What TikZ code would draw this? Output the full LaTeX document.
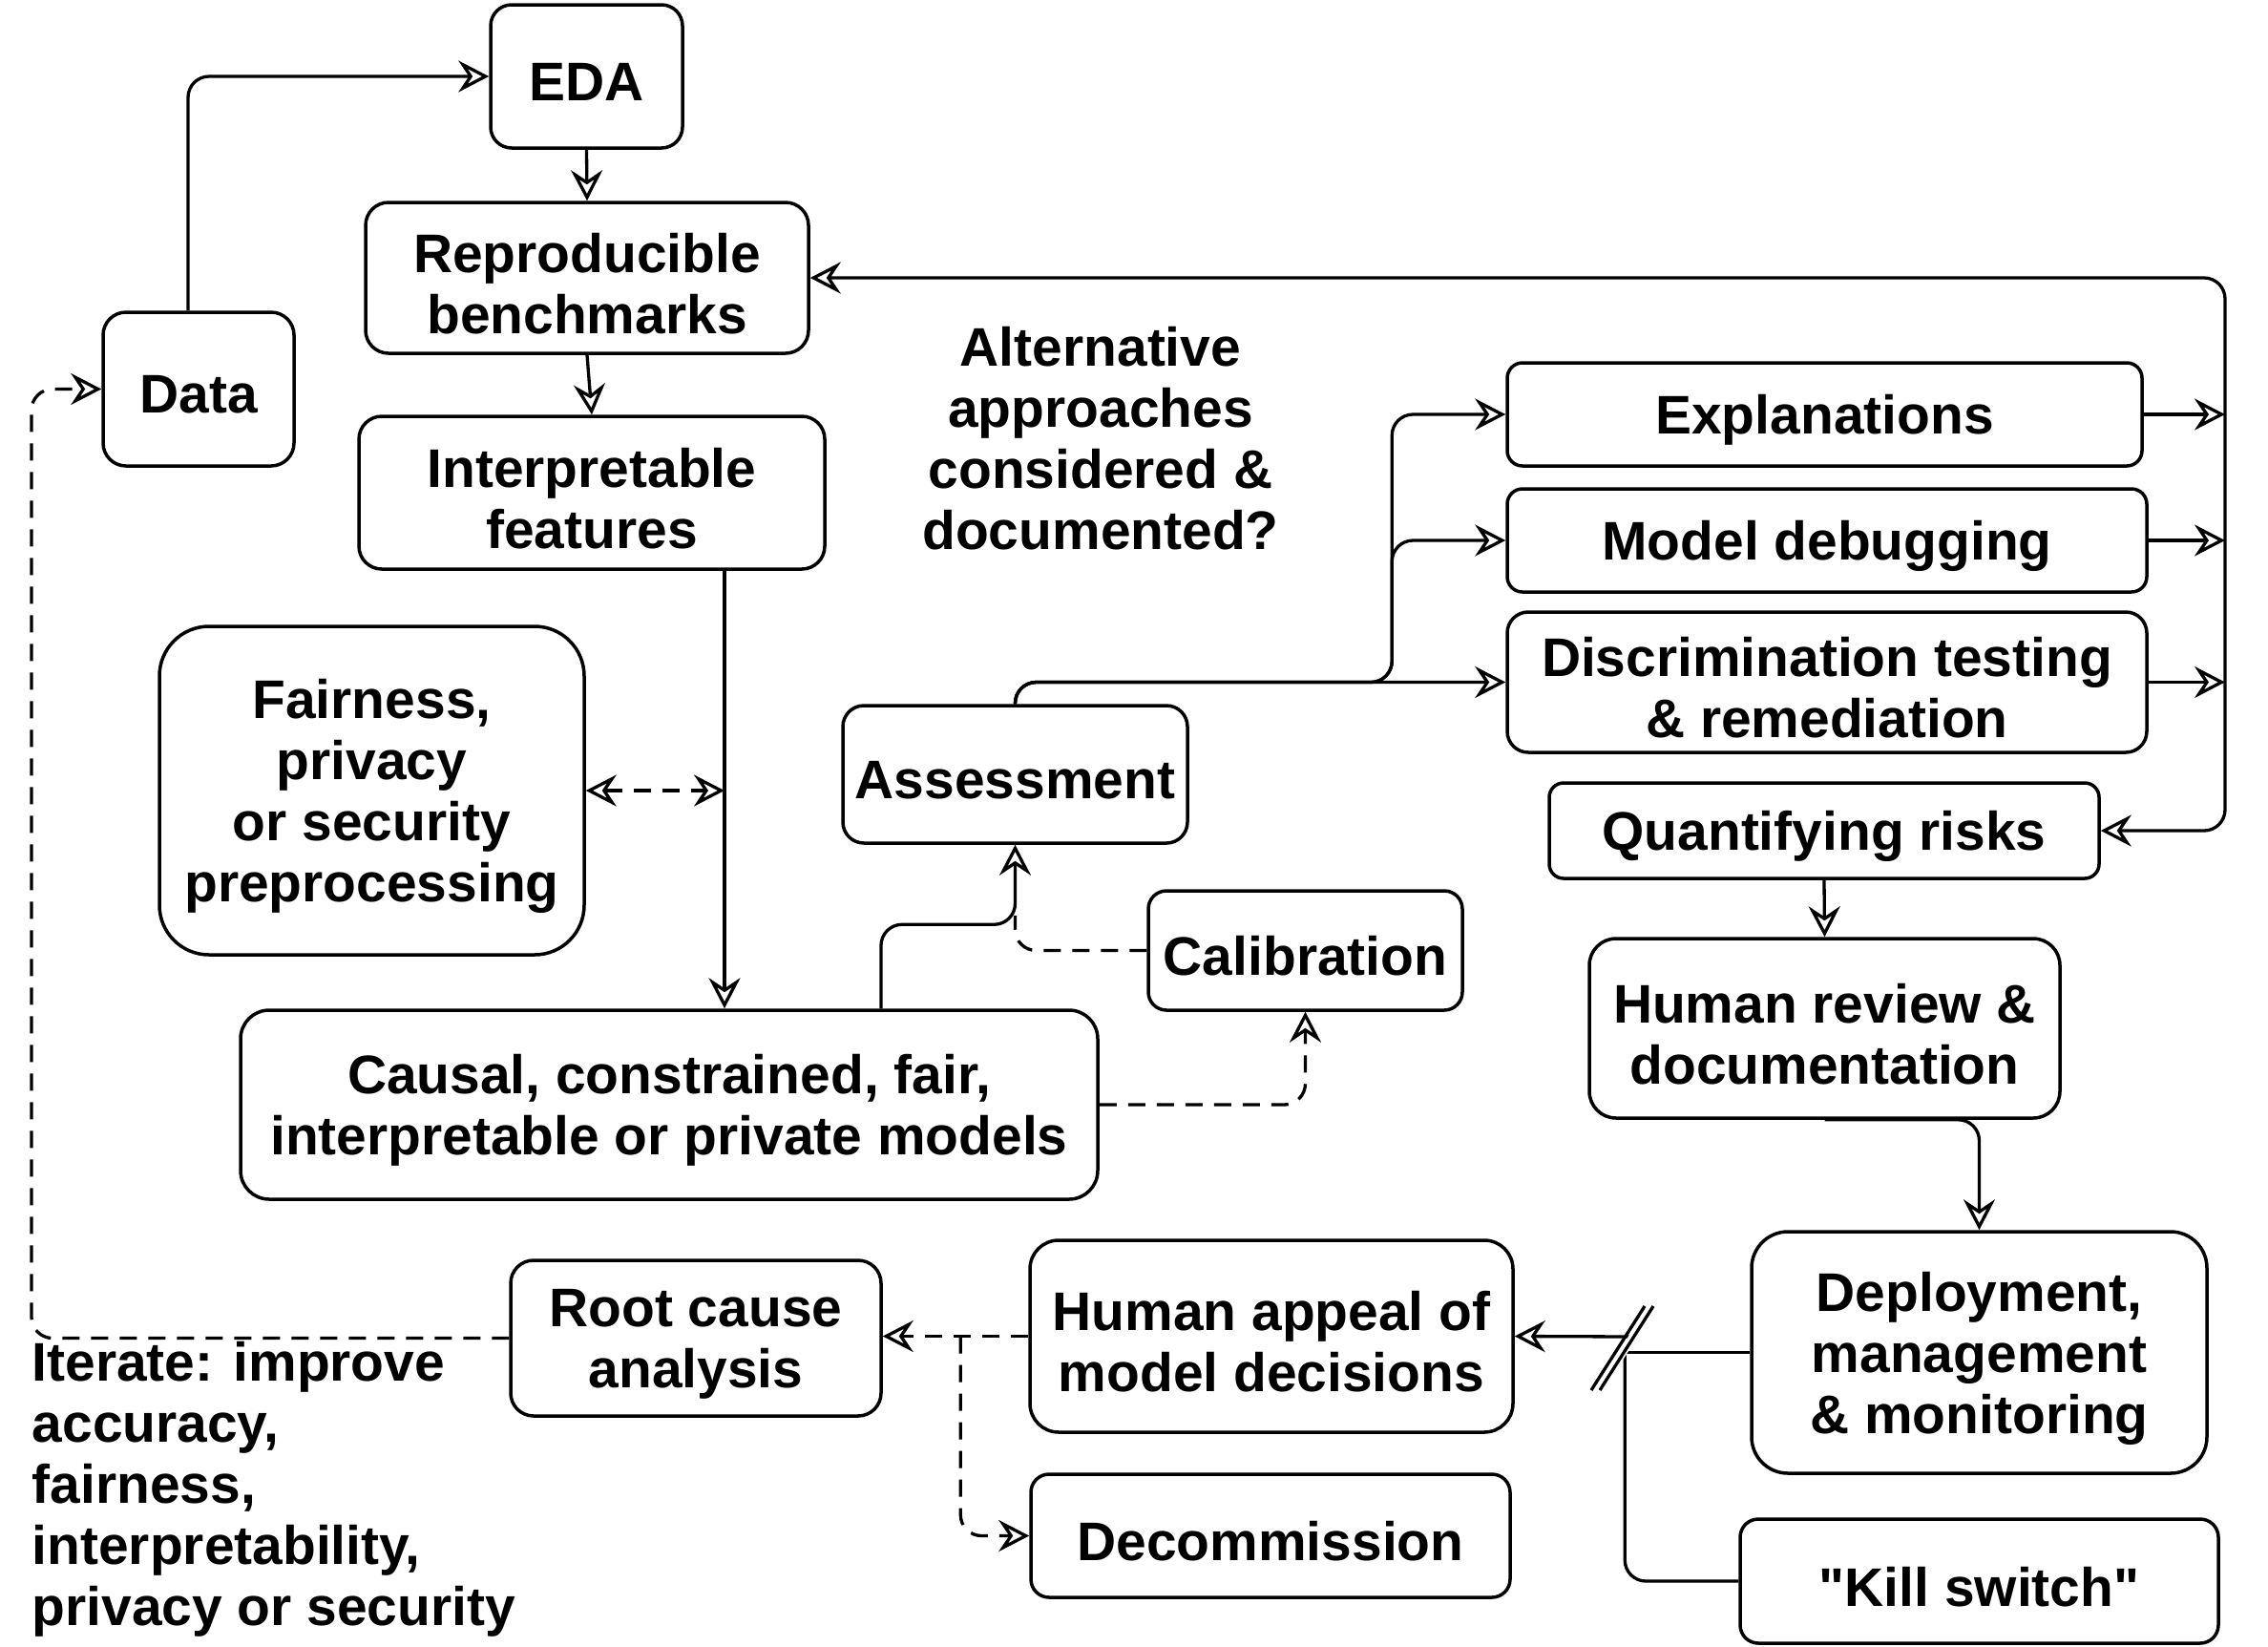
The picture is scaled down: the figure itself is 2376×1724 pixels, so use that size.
\documentclass[tikz,border=0pt]{standalone}
\usepackage{fontspec}
\setmainfont{Liberation Sans}[Ligatures=TeXOff]
\usetikzlibrary{arrows.meta,calc}
\begin{document}
\begin{tikzpicture}[x=0.1mm,y=-0.1mm,
  >={Stealth[open,length=3.2mm,width=3.3mm,inset=1.1mm]},
  txt/.style={font=\fontsize{16.2}{18.2}\selectfont\bfseries},
  box/.style={draw,line width=0.35mm,inner sep=0pt,
    label={[txt,align=center,inner sep=0pt,yshift=-0.6mm]center:{#1}}},
  conn/.style={line width=0.33mm},
  dconn/.style={conn,dash pattern=on 1.8mm off 1.2mm},
  rc/.style={rounded corners=2.2mm}]
\useasboundingbox (0,0) rectangle (2376,1724);

\node[box={EDA},minimum width=20.1mm,minimum height=15mm,rounded corners=2.2mm] (eda) at (614.5,80) {};
\node[box={Reproducible\\benchmarks},minimum width=46.4mm,minimum height=15.8mm,rounded corners=2.4mm] (repro) at (615,291) {};
\node[box={Data},minimum width=20mm,minimum height=16.1mm,rounded corners=2.4mm] (data) at (208,407.5) {};
\node[box={Interpretable\\features},minimum width=48.8mm,minimum height=16mm,rounded corners=2.4mm] (interp) at (620,516) {};
\node[box={Fairness,\\privacy\\or security\\preprocessing},minimum width=44.5mm,minimum height=34.4mm,rounded corners=5.2mm] (fair) at (389.5,828) {};
\node[box={Assessment},minimum width=36.1mm,minimum height=14.4mm,rounded corners=2.2mm] (assess) at (1063.5,811) {};
\node[box={Calibration},minimum width=32.9mm,minimum height=12.5mm,rounded corners=1.9mm] (calib) at (1367.5,995.5) {};
\node[box={Causal, constrained, fair,\\interpretable or private models},minimum width=89.8mm,minimum height=19.8mm,rounded corners=3mm] (causal) at (701,1157) {};
\node[box={Explanations},minimum width=66.5mm,minimum height=10.8mm,rounded corners=1.6mm] (expl) at (1911.5,434) {};
\node[box={Model debugging},minimum width=67mm,minimum height=10.8mm,rounded corners=1.6mm] (debug) at (1914,566) {};
\node[box={Discrimination testing\\\& remediation},minimum width=67mm,minimum height=14.7mm,rounded corners=2.2mm] (discrim) at (1914,714.5) {};
\node[box={Quantifying risks},minimum width=57.6mm,minimum height=10mm,rounded corners=1.5mm] (quant) at (1911,870) {};
\node[box={Human review \&\\documentation},minimum width=49.3mm,minimum height=18.8mm,rounded corners=2.8mm] (review) at (1911.5,1077) {};
\node[box={Deployment,\\management\\\& monitoring},minimum width=47.7mm,minimum height=25.3mm,rounded corners=3.8mm] (deploy) at (2073.5,1416.5) {};
\node[box={"Kill switch"},minimum width=50.1mm,minimum height=13mm,rounded corners=1.9mm] (kill) at (2073.5,1656) {};
\node[box={Human appeal of\\model decisions},minimum width=50.6mm,minimum height=20.1mm,rounded corners=3mm] (appeal) at (1332,1399.5) {};
\node[box={Decommission},minimum width=50.2mm,minimum height=12.9mm,rounded corners=1.9mm] (decom) at (1331,1608.5) {};
\node[box={Root cause\\analysis},minimum width=38.8mm,minimum height=16.3mm,rounded corners=2.4mm] (root) at (729,1401.5) {};

\node[txt,align=center] (alt) at (1153,459) {Alternative\\approaches\\considered \&\\documented?};
\node[txt,align=left,anchor=west,inner sep=0pt] (iter) at (33,1560) {Iterate: improve\\accuracy,\\fairness,\\interpretability,\\privacy or security};

% helper coordinates
\coordinate (bus) at (2331,291);
\coordinate (vbus) at ([xshift=13.9mm]interp.south);
\coordinate (split) at ([xshift=-11.9mm]discrim.west);
\coordinate (loopx) at (33,0);
\coordinate (tee) at ([xshift=-13.1mm]deploy.west);
\coordinate (slashA) at (1671,1456);
\coordinate (slashB) at (1727,1368);
\coordinate (brk) at ([xshift=-7.1mm]appeal.west);

% solid connectors
\draw[conn,rc,->] ([xshift=-1.1mm]data.north) |- (eda.west);
\draw[conn,->] (eda.south) -- (repro.north);
\draw[conn,->] (repro.south) -- (interp.north);
\draw[conn,->] (vbus) -- (vbus |- causal.north);
\draw[conn,rc,->] ([xshift=22.2mm]causal.north) -- ++(0,-88) -| (assess.south);
\draw[conn,rc,->] (assess.north) |- (discrim.west);
\draw[conn,rc,->] (assess.north) |- (split) |- (expl.west);
\draw[conn,rc,->] (assess.north) |- (split) |- (debug.west);
\draw[conn,->] (expl.east) -- (expl.east -| bus);
\draw[conn,->] (debug.east) -- (debug.east -| bus);
\draw[conn,->] (discrim.east) -- (discrim.east -| bus);
\draw[conn,rc,<->] (repro.east) -| (bus |- quant.east) -- (quant.east);
\draw[conn,->] (quant.south) -- (review.north);
\draw[conn,rc,->] (review.south) -| (deploy.north);
\draw[conn] (deploy.west) -- (tee);
\draw[conn,rc] (tee) |- (kill.west);
\draw[conn,->] (1712,1400) -- (appeal.east);
\fill[white] ($(slashA)+(-1,0)$) -- ($(slashB)+(-1,0)$) -- ($(slashB)+(9,0)$) -- ($(slashA)+(9,0)$) -- cycle;
\draw[conn] ($(slashA)+(-4,0)$) -- ($(slashB)+(-4,0)$);
\draw[conn] ($(slashA)+(5,0)$) -- ($(slashB)+(5,0)$);

% dashed connectors
\draw[dconn,<->] (fair.east) -- (fair.east -| vbus);
\draw[dconn,rc] (calib.west) -| ($(assess.south)+(0,74)$);
\draw[dconn,rc,->] (causal.east) -| (calib.south);
\draw[dconn,->] (appeal.west) -- (appeal.west -| root.east);
\draw[dconn,rc,->] (brk) |- (decom.west);
\draw[dconn,rc,->] (root.west) -| (loopx |- fair.south) |- (data.west);
\end{tikzpicture}
\end{document}
